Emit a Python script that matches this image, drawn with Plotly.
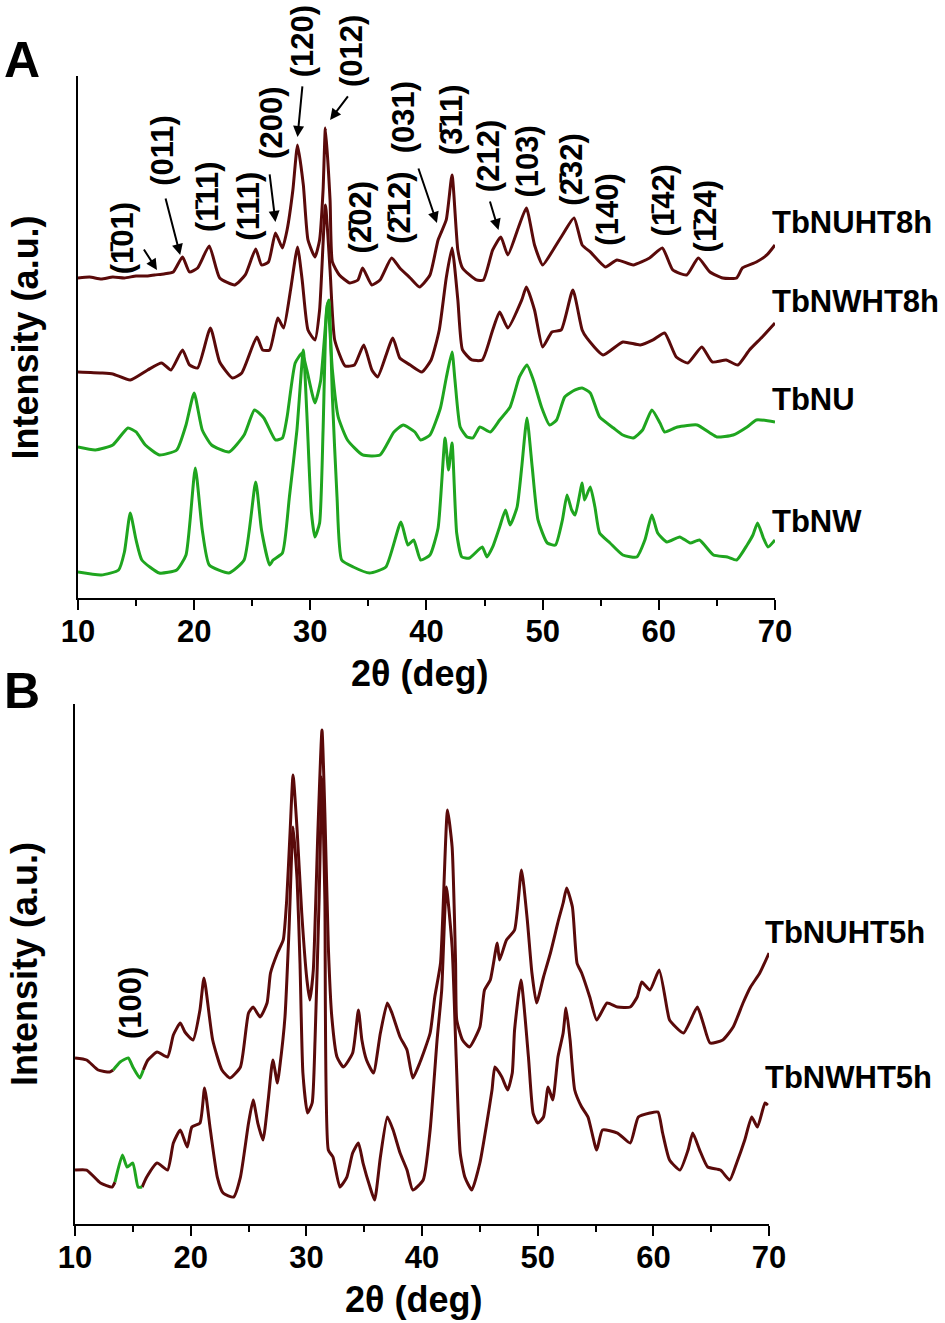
"""XRD patterns of Tb samples, two stacked panels (A and B)"""
import plotly.graph_objects as go

BROWN = "#5a0a0a"
GREEN = "#1fa51f"
FONT = "Liberation Sans, Arial, sans-serif"

# ---- panel A: offset patterns (2theta in deg, intensity in a.u.) ----
nuht8_x = [10.0, 11.0, 12.0, 13.0, 14.0, 15.0, 16.0, 16.6, 17.4, 18.2,
           19.0, 19.6, 20.3, 21.3, 22.2, 23.5, 24.4, 25.3, 25.8, 26.4,
           27.0, 27.6, 28.0, 28.5, 28.9, 29.4, 29.8, 30.4, 30.8, 31.1,
           31.3, 31.7, 31.9, 32.5, 33.4, 34.1, 34.5, 35.3, 36.0, 37.0,
           37.7, 38.6, 39.4, 40.3, 41.0, 41.7, 42.2, 42.7, 43.1, 44.3,
           44.9, 45.7, 46.4, 47.0, 47.9, 48.6, 49.3, 50.0, 50.9, 51.7,
           52.7, 53.4, 54.1, 55.4, 56.4, 57.8, 59.2, 60.3, 61.2, 62.4,
           63.4, 64.4, 65.5, 66.7, 67.2, 68.4, 69.3, 70.0]
nuht8_y = [320, 321, 319, 321, 320, 322, 322, 323, 324, 326,
           341, 326, 330, 352, 320, 313, 323, 349, 333, 336,
           365, 350, 368, 408, 453, 413, 358, 341, 358, 408,
           470, 398, 336, 323, 315, 318, 330, 313, 318, 340,
           330, 320, 311, 323, 358, 378, 423, 348, 330, 318,
           318, 348, 361, 343, 370, 390, 353, 333, 348, 363,
           380, 353, 346, 331, 338, 333, 340, 350, 328, 323,
           340, 326, 320, 320, 330, 336, 343, 353]

nwht8_x = [10.0, 12.0, 13.0, 14.5, 16.0, 17.2, 18.0, 19.0, 19.6, 20.3,
           21.4, 22.2, 23.3, 24.1, 25.4, 25.9, 26.5, 27.2, 27.7, 28.3,
           28.9, 29.3, 29.8, 30.4, 30.8, 31.3, 31.7, 32.1, 33.0, 33.8,
           34.6, 35.3, 35.8, 37.1, 37.7, 38.6, 39.6, 40.4, 41.1, 41.7,
           42.2, 42.7, 43.1, 43.9, 44.8, 45.7, 46.3, 47.0, 48.2, 48.6,
           49.3, 50.0, 50.8, 51.6, 52.6, 53.4, 53.8, 55.2, 56.9, 58.4,
           59.5, 60.5, 61.5, 62.5, 63.7, 64.6, 65.8, 66.8, 67.8, 68.9,
           70.0]
nwht8_y = [226, 225, 224, 218, 228, 235, 228, 248, 233, 230,
           270, 236, 220, 225, 261, 248, 248, 280, 270, 308,
           351, 318, 268, 258, 288, 393, 328, 258, 232, 233,
           253, 228, 221, 260, 240, 233, 226, 238, 268, 320,
           350, 298, 248, 238, 238, 268, 286, 270, 298, 311,
           288, 251, 266, 268, 308, 268, 260, 243, 256, 253,
           258, 265, 241, 235, 251, 236, 238, 233, 248, 261,
           275]

nu_x = [10.0, 11.5, 13.0, 14.3, 15.0, 15.8, 17.0, 18.5, 19.3, 20.0,
        20.7, 21.5, 23.0, 24.3, 25.2, 26.0, 27.0, 27.6, 28.0, 28.7,
        29.3, 29.7, 30.4, 30.9, 31.5, 31.9, 32.4, 33.2, 34.5, 36.0,
        37.2, 38.0, 39.0, 39.5, 40.3, 41.2, 41.7, 42.2, 42.45, 42.9,
        43.5, 44.0, 44.6, 45.5, 46.3, 47.2, 48.0, 48.65, 49.2, 49.9,
        50.6, 51.2, 51.9, 52.8, 53.4, 54.1, 54.9, 56.1, 56.9, 57.8,
        58.6, 59.4, 60.1, 60.5, 61.6, 63.3, 64.4, 65.0, 66.4, 67.6,
        68.4, 70.0]
nu_y = [151, 148, 153, 170, 166, 153, 143, 148, 173, 205,
        168, 153, 146, 163, 188, 180, 158, 160, 181, 235,
        245, 228, 195, 218, 295, 228, 181, 158, 143, 143,
        166, 173, 166, 158, 163, 190, 220, 246, 218, 171,
        161, 160, 171, 166, 178, 191, 221, 233, 218, 191,
        173, 178, 201, 208, 210, 205, 181, 170, 163, 160,
        168, 188, 175, 166, 171, 173, 165, 161, 163, 171,
        178, 176]

nw_x = [10.0, 12.0, 13.5, 14.0, 14.5, 15.0, 15.5, 17.0, 18.5, 19.3,
        20.1, 20.7, 21.3, 23.0, 24.3, 25.3, 25.8, 26.5, 26.8, 27.6,
        28.2, 28.85, 29.4, 29.7, 30.1, 30.4, 30.8, 31.1, 31.4, 31.6,
        31.9, 32.3, 32.7, 33.7, 35.1, 36.5, 37.8, 38.4, 38.9, 39.5,
        40.3, 41.0, 41.6, 41.9, 42.2, 42.6, 43.05, 43.7, 44.8, 45.2,
        45.7, 46.3, 46.8, 47.2, 47.8, 48.2, 48.65, 49.1, 49.6, 50.4,
        51.1, 51.7, 52.1, 52.5, 52.8, 53.4, 53.6, 54.1, 54.5, 54.9,
        55.8, 56.9, 58.1, 58.8, 59.4, 59.9, 60.7, 61.8, 62.7, 63.5,
        64.7, 65.9, 66.7, 67.6, 68.1, 68.5, 69.0, 69.4, 70.0]
nw_y = [26, 23, 28, 46, 85, 58, 38, 25, 28, 43,
        130, 68, 33, 25, 38, 116, 68, 33, 38, 45,
        101, 168, 248, 185, 85, 61, 75, 168, 288, 298,
        201, 101, 38, 31, 25, 31, 76, 53, 58, 38,
        43, 70, 160, 128, 155, 65, 41, 40, 51, 41,
        51, 71, 88, 73, 91, 131, 180, 131, 78, 55,
        53, 78, 103, 88, 83, 115, 98, 111, 91, 65,
        55, 43, 41, 58, 83, 65, 56, 61, 55, 58,
        43, 41, 38, 53, 63, 75, 60, 51, 58]

# ---- panel B ----
nuht5_x = [10.0, 11.0, 12.0, 13.0, 13.3, 13.9, 14.6, 15.0, 15.6, 15.9,
           16.3, 17.1, 18.0, 18.5, 19.1, 19.5, 20.2, 20.8, 21.15, 21.9,
           22.7, 23.4, 24.3, 25.0, 25.4, 26.0, 26.6, 26.9, 27.5, 28.0,
           28.3, 28.6, 28.85, 29.2, 29.6, 30.05, 30.3, 30.6, 31.0, 31.35,
           31.6, 31.9, 32.2, 32.65, 33.2, 34.0, 34.5, 34.8, 35.2, 35.8,
           36.4, 37.0, 37.4, 38.1, 38.7, 39.2, 39.8, 40.7, 41.1, 41.6,
           42.2, 42.6, 42.9, 43.0, 43.5, 44.1, 45.0, 45.4, 45.9, 46.5,
           46.7, 47.3, 48.0, 48.6, 49.1, 49.5, 49.9, 50.5, 51.1, 51.8,
           52.2, 52.5, 53.0, 53.4, 53.8, 54.5, 55.1, 56.0, 56.9, 58.0,
           58.6, 59.0, 59.7, 60.5, 61.2, 61.4, 62.6, 63.8, 64.3, 64.9,
           66.0, 66.9, 67.75, 68.4, 69.2, 70.0]
nuht5_y = [166, 164, 154, 152, 154, 162, 166, 157, 146, 154,
           164, 172, 167, 189, 201, 192, 184, 214, 246, 184,
           154, 146, 157, 211, 217, 207, 221, 251, 271, 284,
           324, 394, 449, 394, 311, 244, 224, 254, 394, 494,
           411, 277, 207, 167, 157, 171, 214, 184, 164, 151,
           191, 221, 211, 187, 174, 146, 161, 191, 227, 261,
           414, 377, 261, 204, 184, 177, 197, 234, 244, 281,
           264, 284, 294, 354, 304, 251, 221, 247, 271, 304,
           321, 336, 317, 261, 251, 227, 204, 221, 217, 217,
           227, 242, 234, 254, 214, 204, 191, 217, 201, 181,
           184, 197, 221, 237, 251, 271]
nuht5_green = (13.3, 15.9)

nwht5_x = [10.0, 11.0, 12.2, 13.2, 13.45, 14.1, 14.5, 15.0, 15.45, 15.8,
           16.2, 17.1, 18.0, 18.5, 19.1, 19.7, 20.1, 20.8, 21.2, 21.7,
           22.3, 22.8, 23.7, 24.3, 25.0, 25.4, 25.8, 26.25, 26.7, 27.1,
           27.5, 27.7, 28.15, 28.5, 28.85, 29.2, 29.45, 29.7, 30.1, 30.5,
           30.75, 31.1, 31.35, 31.6, 31.9, 32.3, 32.9, 33.5, 34.0, 34.5,
           34.9, 35.5, 35.9, 36.4, 37.0, 37.5, 38.1, 38.7, 39.2, 40.1,
           40.7, 41.3, 41.7, 42.1, 42.6, 42.95, 43.3, 43.7, 44.3, 45.0,
           45.6, 46.05, 46.3, 46.9, 47.4, 47.8, 48.0, 48.55, 49.2, 49.6,
           50.0, 50.5, 50.9, 51.3, 51.75, 52.2, 52.45, 52.8, 53.2, 53.8,
           54.35, 55.1, 55.6, 56.9, 58.0, 58.7, 59.7, 60.4, 60.8, 61.4,
           62.3, 63.0, 63.4, 64.0, 64.7, 65.8, 66.6, 67.2, 67.9, 68.5,
           69.0, 69.65, 69.9]
nwht5_y = [54, 54, 41, 37, 42, 69, 57, 61, 37, 37,
           47, 61, 54, 81, 94, 77, 97, 101, 136, 94,
           47, 31, 27, 47, 101, 124, 101, 84, 124, 164,
           141, 157, 207, 294, 397, 344, 261, 151, 111, 121,
           184, 324, 447, 324, 74, 67, 37, 47, 71, 81,
           61, 37, 24, 67, 107, 94, 71, 54, 34, 44,
           94, 184, 234, 337, 277, 167, 71, 47, 34, 61,
           101, 134, 157, 147, 134, 151, 194, 244, 167, 111,
           101, 107, 137, 124, 167, 191, 216, 184, 134, 117,
           107, 74, 94, 91, 81, 107, 111, 112, 91, 64,
           54, 74, 91, 74, 57, 54, 44, 61, 84, 107,
           97, 121, 119]
nwht5_green = (13.45, 15.8)

Y_TOP_A = 522
Y_TOP_B = 520

# labels: (text, 2theta, intensity)
miller_a = [("(1\u030401)", 13.9, 360), ("(011)", 17.3, 448), ("(1\u030411)", 21.2, 401),
            ("(111)", 24.7, 392), ("(200)", 26.7, 475), ("(120)", 29.4, 557),
            ("(012)", 33.6, 547), ("(2\u030402)", 34.4, 381), ("(2\u030412)", 37.7, 390),
            ("(031)", 38.1, 481), ("(3\u030411)", 42.2, 478), ("(212)", 45.4, 442),
            ("(103)", 48.7, 436), ("(2\u030432)", 52.5, 428), ("(140)", 55.6, 388),
            ("(1\u030442)", 60.4, 398), ("(1\u030424)", 64.1, 382)]
# arrows: head (2theta, intensity), tail offset in px
arrows_a = [(16.8, 328, -14, -22), (18.8, 343, -15, -58), (27.0, 376, -6, -49),
            (28.9, 461, 5, -52), (31.7, 478, 19, -25), (40.9, 375, -19, -56),
            (46.2, 368, -9, -30)]
names_a = [("TbNUHT8h", 375), ("TbNWHT8h", 296), ("TbNU", 198), ("TbNW", 76)]
names_b = [("TbNUHT5h", 291), ("TbNWHT5h", 147)]


def line(x, y, color, xa, ya):
  return go.Scatter(x=x, y=y, mode="lines", xaxis=xa, yaxis=ya,
                    line=dict(color=color, width=3, shape="spline", smoothing=0.5),
                    showlegend=False, hoverinfo="skip")


def split_green(x, y, window):
  lo, hi = window
  bx, by, gx, gy = [], [], [], []
  gap_added = False
  for xi, yi in zip(x, y):
    if xi <= lo or xi >= hi:
      if xi >= hi and not gap_added:
        bx.append(None)
        by.append(None)
        gap_added = True
      bx.append(xi)
      by.append(yi)
    if lo <= xi <= hi:
      gx.append(xi)
      gy.append(yi)
  return bx, by, gx, gy


fig = go.Figure()
fig.add_trace(line(nuht8_x, nuht8_y, BROWN, "x", "y"))
fig.add_trace(line(nwht8_x, nwht8_y, BROWN, "x", "y"))
fig.add_trace(line(nw_x, nw_y, GREEN, "x", "y"))
fig.add_trace(line(nu_x, nu_y, GREEN, "x", "y"))

for x, y, win in [(nwht5_x, nwht5_y, nwht5_green), (nuht5_x, nuht5_y, nuht5_green)]:
  bx, by, gx, gy = split_green(x, y, win)
  fig.add_trace(line(bx, by, BROWN, "x2", "y2"))
  fig.add_trace(line(gx, gy, GREEN, "x2", "y2"))

text_font = dict(size=31, family=FONT, color="black")
annotations = []
for text, xv, yv in miller_a:
  annotations.append(dict(x=xv, y=yv / Y_TOP_A, xref="x", yref="y domain",
                          text=f"<b>{text}</b>", textangle=-90, showarrow=False,
                          xanchor="center", yanchor="middle", font=text_font))
for xv, yv, ax, ay in arrows_a:
  annotations.append(dict(x=xv, y=yv, xref="x", yref="y", text="", showarrow=True,
                          ax=ax, ay=ay, arrowhead=2, arrowsize=1.1, arrowwidth=2,
                          arrowcolor="black", standoff=0))
for text, yv in names_a:
  annotations.append(dict(x=69.6, y=yv, xref="x", yref="y", text=f"<b>{text}</b>",
                          xanchor="left", yanchor="middle", showarrow=False, font=text_font))
for text, yv in names_b:
  annotations.append(dict(x=69.5, y=yv, xref="x2", yref="y2", text=f"<b>{text}</b>",
                          xanchor="left", yanchor="middle", showarrow=False, font=text_font))
annotations.append(dict(x=14.75, y=221, xref="x2", yref="y2", text="<b>(100)</b>",
                        textangle=-90, showarrow=False, xanchor="center",
                        yanchor="middle", font=text_font))

# axis titles and panel letters (paper coordinates)
for yc, xl_x, xl_y, let_y, let in [(0.745, 0.444, 0.4913, 0.9546, "A"),
                                   (0.2714, 0.438, 0.0180, 0.4777, "B")]:
  annotations.append(dict(x=0.0265, y=yc, xref="paper", yref="paper",
                          text="<b>Intensity (a.u.)</b>", textangle=-90, showarrow=False,
                          xanchor="center", yanchor="middle",
                          font=dict(size=36, family=FONT, color="black")))
  annotations.append(dict(x=xl_x, y=xl_y, xref="paper", yref="paper",
                          text="<b>2θ (deg)</b>", showarrow=False,
                          xanchor="center", yanchor="middle",
                          font=dict(size=36, family=FONT, color="black")))
  annotations.append(dict(x=0.0233, y=let_y, xref="paper", yref="paper",
                          text=f"<b>{let}</b>", showarrow=False,
                          xanchor="center", yanchor="middle",
                          font=dict(size=50, family=FONT, color="black")))

xaxis_style = dict(range=[10, 70], showline=True, linecolor="black", linewidth=2,
                   ticks="outside", ticklen=10, tickwidth=2, tickcolor="black",
                   tick0=10, dtick=10, showgrid=False, zeroline=False, automargin=False,
                   ticklabelstandoff=-5,
                   tickfont=dict(size=31, family=FONT, color="black", weight="bold"),
                   minor=dict(ticks="outside", ticklen=6, tickwidth=2,
                              tickcolor="black", dtick=5, tick0=10, showgrid=False))
yaxis_style = dict(showline=True, linecolor="black", linewidth=2, ticks="",
                   showticklabels=False, showgrid=False, zeroline=False,
                   automargin=False)

fig.update_layout(
  width=945, height=1323,
  margin=dict(l=0, r=0, t=0, b=0, pad=0, autoexpand=False),
  paper_bgcolor="white", plot_bgcolor="white",
  xaxis=dict(domain=[0.0825, 0.8201], anchor="y", **xaxis_style),
  yaxis=dict(domain=[0.548, 0.9426], anchor="x", range=[0, Y_TOP_A], **yaxis_style),
  xaxis2=dict(domain=[0.0794, 0.8138], anchor="y2", **xaxis_style),
  yaxis2=dict(domain=[0.0748, 0.4679], anchor="x2", range=[0, Y_TOP_B], **yaxis_style),
  annotations=annotations,
  showlegend=False,
)

# the page's default body margin would shift the figure by 8px
fig.write_html("out.html", config={"displayModeBar": False},
               post_script="document.body.style.margin = '0px';")
